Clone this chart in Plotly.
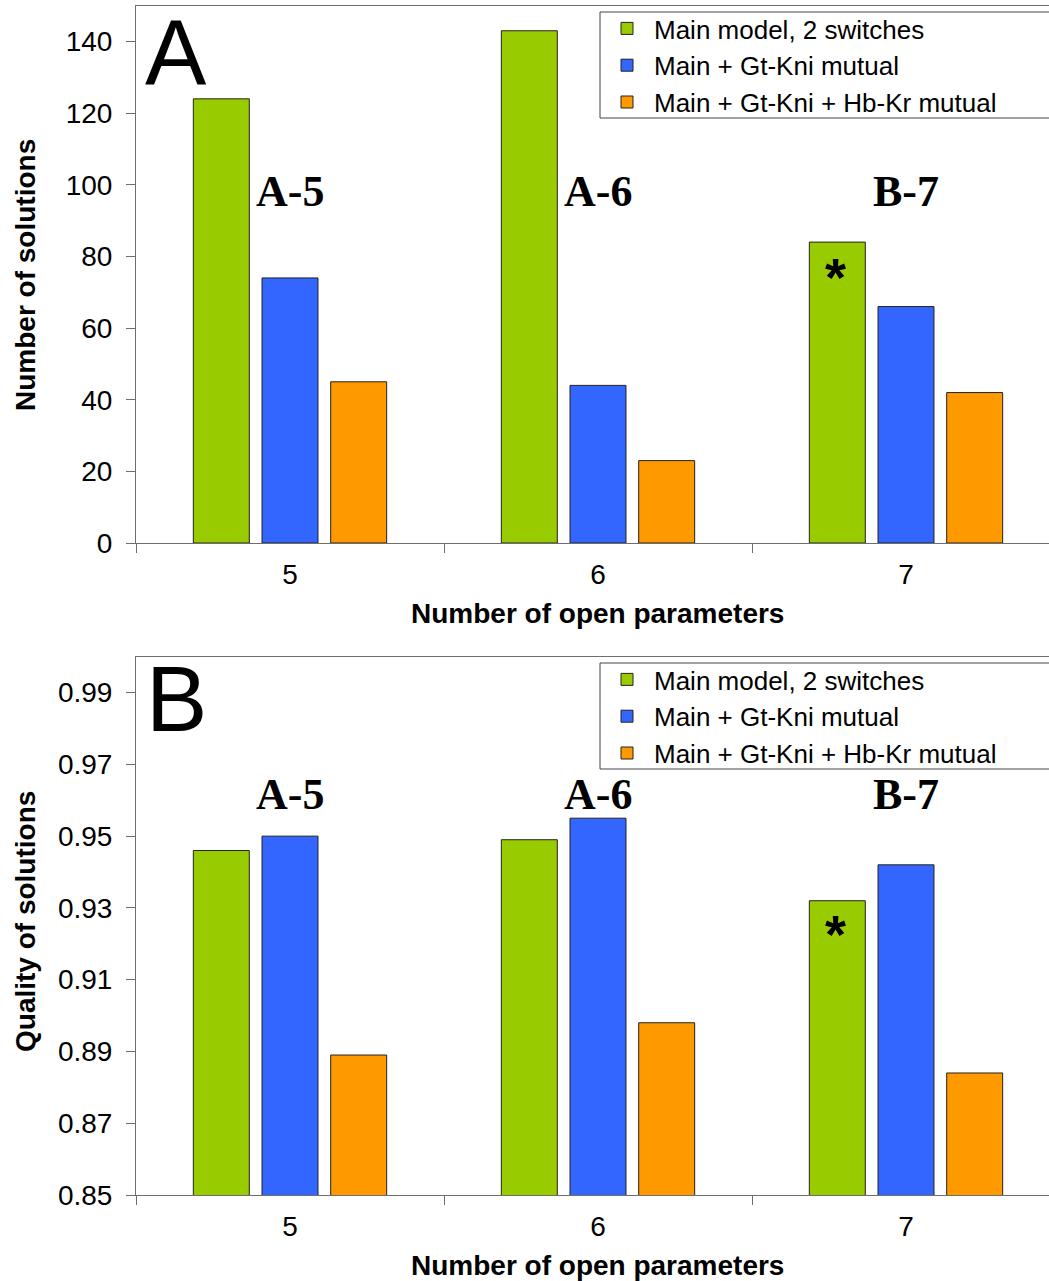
import plotly.graph_objects as go

# ---------------- data ----------------
categories = ["5", "6", "7"]
series_names = ["Main model, 2 switches", "Main + Gt-Kni mutual", "Main + Gt-Kni + Hb-Kr mutual"]
series_colors = ["#99CC00", "#3366FF", "#FF9900"]

count_main = [124, 143, 84]
count_gtkni = [74, 44, 66]
count_gtkni_hbkr = [45, 23, 42]

quality_main = [0.946, 0.949, 0.932]
quality_gtkni = [0.950, 0.955, 0.942]
quality_gtkni_hbkr = [0.889, 0.898, 0.884]

group_labels = ["A-5", "A-6", "B-7"]
panel_labels = ["A", "B"]
x_title = "Number of open parameters"
y_titles = ["Number of solutions", "Quality of solutions"]

# ---------------- layout helpers ----------------
W, H = 1049, 1281
PLOT_L = 136
CAT_PX = 308.0
x_right = (W - PLOT_L) / CAT_PX - 0.5

def px_x(p):
    return p / W

def px_y(p):
    return 1 - p / H

AXIS_COLOR = "#6e6e6e"
SANS = "Liberation Sans, Arial, sans-serif"
SERIF = "Liberation Serif, Times New Roman, serif"

fig = go.Figure()

top_vals = [count_main, count_gtkni, count_gtkni_hbkr]
bot_vals = [quality_main, quality_gtkni, quality_gtkni_hbkr]

for name, col, vals in zip(series_names, series_colors, top_vals):
    fig.add_trace(go.Bar(x=categories, y=vals, name=name, marker=dict(color=col, line=dict(color="#222222", width=1)),
                         xaxis="x", yaxis="y", legend="legend"))
for name, col, vals in zip(series_names, series_colors, bot_vals):
    fig.add_trace(go.Bar(x=categories, y=vals, name=name, marker=dict(color=col, line=dict(color="#222222", width=1)),
                         xaxis="x2", yaxis="y2", legend="legend2"))

xaxis_common = dict(
    type="category", categoryorder="array", categoryarray=categories,
    range=[-0.5, x_right], domain=[px_x(PLOT_L), 1],
    tickson="boundaries", ticks="outside", ticklen=9, tickcolor=AXIS_COLOR,
    showline=True, linecolor=AXIS_COLOR, linewidth=1, mirror=True,
    showgrid=False, zeroline=False,
    tickfont=dict(family=SANS, size=28, color="black"),
    ticklabelstandoff=6,
)
yaxis_common = dict(
    ticks="outside", ticklen=9, tickcolor=AXIS_COLOR,
    showline=True, linecolor=AXIS_COLOR, linewidth=1,
    showgrid=False, zeroline=False,
    tickfont=dict(family=SANS, size=28, color="black"),
    ticklabelstandoff=8,
)

legend_common = dict(
    xanchor="left", yanchor="top", bgcolor="rgba(0,0,0,0)",
    borderwidth=0,
    font=dict(family=SANS, size=26, color="black"),
    traceorder="normal", itemwidth=44,
)

# legend frames (white box with dark border, running off the right edge like the reference)
shapes = []
for top_px, bot_px in ((12, 118), (663, 769)):
    shapes.append(dict(type="rect", xref="paper", yref="paper",
                       x0=px_x(600), x1=1.05, y0=px_y(bot_px), y1=px_y(top_px),
                       line=dict(color="#444444", width=1), fillcolor="white", layer="above"))

annotations = []
# group labels
for i, lab in enumerate(group_labels):
    annotations.append(dict(x=i, y=98, xref="x", yref="y", text=lab, showarrow=False,
                            yanchor="middle", xanchor="center",
                            font=dict(family=SERIF, size=44, color="black", weight="bold")))
    annotations.append(dict(x=i, y=0.9615, xref="x2", yref="y2", text=lab, showarrow=False,
                            yanchor="middle", xanchor="center",
                            font=dict(family=SERIF, size=44, color="black", weight="bold")))
# asterisks on green bar of group 7
annotations.append(dict(x=2 - 0.2305, y=74.3, xref="x", yref="y", text="*", showarrow=False,
                        yanchor="middle", xanchor="center",
                        font=dict(family=SANS, size=54, color="black", weight="bold")))
annotations.append(dict(x=2 - 0.2305, y=0.9226, xref="x2", yref="y2", text="*", showarrow=False,
                        yanchor="middle", xanchor="center",
                        font=dict(family=SANS, size=54, color="black", weight="bold")))
# panel letters
annotations.append(dict(x=px_x(143), y=px_y(52.5), xref="paper", yref="paper", text=panel_labels[0],
                        showarrow=False, xanchor="left", yanchor="middle",
                        font=dict(family=SANS, size=92, color="black")))
annotations.append(dict(x=px_x(144), y=px_y(699), xref="paper", yref="paper", text=panel_labels[1],
                        showarrow=False, xanchor="left", yanchor="middle",
                        font=dict(family=SANS, size=92, color="black")))
# axis titles
for ty in (613, 1265):
    annotations.append(dict(x=px_x(597), y=px_y(ty), xref="paper", yref="paper", text=x_title,
                            showarrow=False, xanchor="center", yanchor="middle",
                            font=dict(family=SANS, size=28, color="black", weight="bold")))
for ty, txt in zip((275, 922), y_titles):
    annotations.append(dict(x=px_x(25), y=px_y(ty), xref="paper", yref="paper", text=txt,
                            showarrow=False, textangle=-90, xanchor="center", yanchor="middle",
                            font=dict(family=SANS, size=28, color="black", weight="bold")))

fig.update_layout(
    width=W, height=H,
    margin=dict(l=0, r=0, t=0, b=0, autoexpand=False),
    paper_bgcolor="white", plot_bgcolor="white",
    barmode="group", bargap=0.331, bargroupgap=0.185,
    xaxis=dict(**xaxis_common, anchor="y"),
    yaxis=dict(**yaxis_common, anchor="x", domain=[px_y(543), px_y(5.7)],
               range=[0, 150], tick0=0, dtick=20),
    xaxis2=dict(**xaxis_common, anchor="y2"),
    yaxis2=dict(**yaxis_common, anchor="x2", domain=[px_y(1195), px_y(656.7)],
                range=[0.85, 1.0], tick0=0.85, dtick=0.02, tickformat=".2f"),
    legend=dict(**legend_common, x=px_x(600), y=px_y(5)),
    legend2=dict(**legend_common, x=px_x(600), y=px_y(656)),
    shapes=shapes,
    annotations=annotations,
    showlegend=True,
)

fig.write_html("out.html", config={"displayModeBar": False},
               post_script="document.body.style.margin='0px';document.body.style.overflow='hidden';")
